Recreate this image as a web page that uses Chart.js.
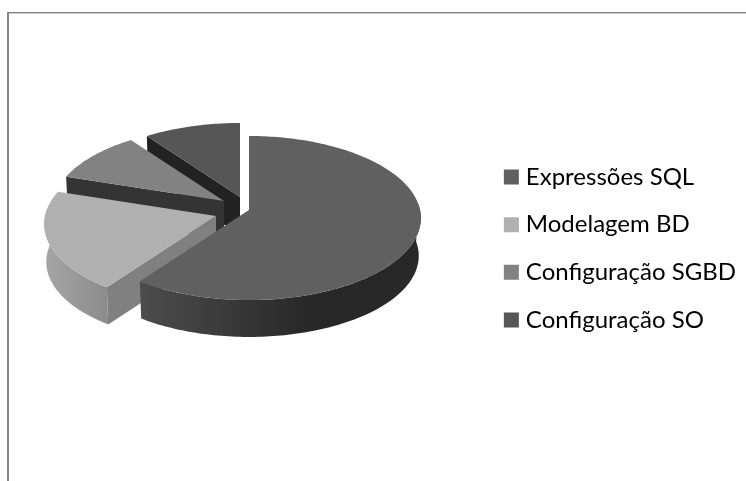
<!DOCTYPE html>
<html>
<head>
<meta charset="utf-8">
<style>
  html, body { margin: 0; background: #fff; }
  #frame { position: absolute; left: 7px; top: 12px; width: 739px; height: 469px; border-left: 2px solid #868686; border-top: 1px solid #808080; box-shadow: inset 0 1px 0 #cccccc; box-sizing: border-box; }
  #wrap { position: absolute; left: 0; top: 0; width: 746px; height: 481px; }
</style>
<script src="https://cdn.jsdelivr.net/npm/chart.js@4"></script>
</head>
<body>
<div id="frame"></div>
<div id="wrap"><canvas id="pie"></canvas></div>
<script>
// dados
const categories = ['Expressões SQL', 'Modelagem BD', 'Configuração SGBD', 'Configuração SO'];
const values = [60, 20, 10, 10];

// cores de cada fatia
const topColors = ['#606060', '#b0b0b0', '#828282', '#565656'];
const cutColors = ['#303030', '#808080', '#343434', '#222222'];
const wallFrom = ['#4c4c4c', '#a6a6a6', '#707070', '#444444'];
const wallTo = ['#282828', '#8c8c8c', '#707070', '#444444'];

// deslocamento de cada fatia em relacao ao centro da pizza (explosao)
const explodeX = [17, -16, -8, 8];
const explodeY = [5, 11, -4, -8];

const tiltY = 0.475;      // achatamento do disco
const perspective = 0.0976;
const depth = 38;         // altura da pizza
const pieCenter = { x: 232, y: 205 };
const pieRadius = 171;

// projeta um ponto da borda do disco para a tela
function project(sx, sy, r, angle, lower) {
    const u = r * Math.sin(angle);
    const v = -r * Math.cos(angle);
    const w = 1 - perspective * v / pieRadius;
    const s = lower ? 0.988 : 1;
    return {
        x: sx + s * u / w,
        y: sy + (lower ? depth : 0) + s * tiltY * v / w
    };
}

function rimPoints(sx, sy, r, a0, a1, lower) {
    const pts = [];
    const n = Math.max(2, Math.ceil(Math.abs(a1 - a0) / 0.02));
    for (let i = 0; i <= n; i++) {
        pts.push(project(sx, sy, r, a0 + (a1 - a0) * i / n, lower));
    }
    return pts;
}

function fillPath(ctx, pts, fill) {
    ctx.beginPath();
    pts.forEach((p, i) => i ? ctx.lineTo(p.x, p.y) : ctx.moveTo(p.x, p.y));
    ctx.closePath();
    ctx.fillStyle = fill;
    ctx.fill();
}

// desenha as fatias em 3D a partir dos arcos calculados pelo Chart.js
const pie3d = {
    id: 'pie3d',
    beforeDatasetDraw(chart) {
        const ctx = chart.ctx;
        const arcs = chart.getDatasetMeta(0).data;
        const quarter = Math.PI / 2;
        const order = [3, 2, 1, 0]; // de tras para frente
        order.forEach(i => {
            const arc = arcs[i];
            // angulos medidos a partir do topo, sentido horario
            const start = arc.startAngle + quarter;
            const end = arc.endAngle + quarter;
            const r = arc.outerRadius;
            const sx = pieCenter.x + explodeX[i];
            const sy = pieCenter.y + explodeY[i];

            // parede externa, so a parte voltada para frente
            const a0 = Math.max(start, quarter * 0.95);
            const a1 = Math.min(end, quarter * 3.06);
            if (a1 > a0) {
                const upper = rimPoints(sx, sy, r, a0, a1, false);
                const lower = rimPoints(sx, sy, r, a1, a0, true);
                const xs = upper.map(p => p.x);
                const g = ctx.createLinearGradient(Math.min(...xs), 0, Math.max(...xs), 0);
                g.addColorStop(0, wallFrom[i]);
                g.addColorStop(i === 0 ? 0.6 : 1, wallTo[i]);
                fillPath(ctx, upper.concat(lower), g);
            }

            // face do corte, visivel quando o raio inicial aponta para tras/esquerda
            if (Math.sin(start) < 0) {
                const rimTop = project(sx, sy, r, start, false);
                const rimLow = project(sx, sy, r, start, true);
                const apexTop = project(sx, sy, 0, start, false);
                const apexLow = project(sx, sy, 0, start, true);
                fillPath(ctx, [apexTop, rimTop, rimLow, apexLow], cutColors[i]);
            }

            // face superior
            const top = rimPoints(sx, sy, r, start, end, false);
            top.unshift(project(sx, sy, 0, start, false));
            fillPath(ctx, top, topColors[i]);
        });
        return false;
    }
};

new Chart(document.getElementById('pie').getContext('2d'), {
    type: 'pie',
    data: {
        labels: categories,
        datasets: [{
            data: values,
            backgroundColor: topColors,
            borderWidth: 0,
            radius: pieRadius
        }]
    },
    options: {
        responsive: true,
        maintainAspectRatio: false,
        animation: false,
        layout: { padding: { top: 16, right: 0 } },
        plugins: {
            tooltip: { enabled: false },
            legend: {
                position: 'right',
                labels: {
                    usePointStyle: true,
                    pointStyle: 'rect',
                    boxWidth: 5,
                    boxHeight: 15,
                    padding: 23.7,
                    color: '#000000',
                    font: { family: 'Lato', size: 24 }
                }
            }
        }
    },
    plugins: [pie3d]
});
</script>
</body>
</html>
